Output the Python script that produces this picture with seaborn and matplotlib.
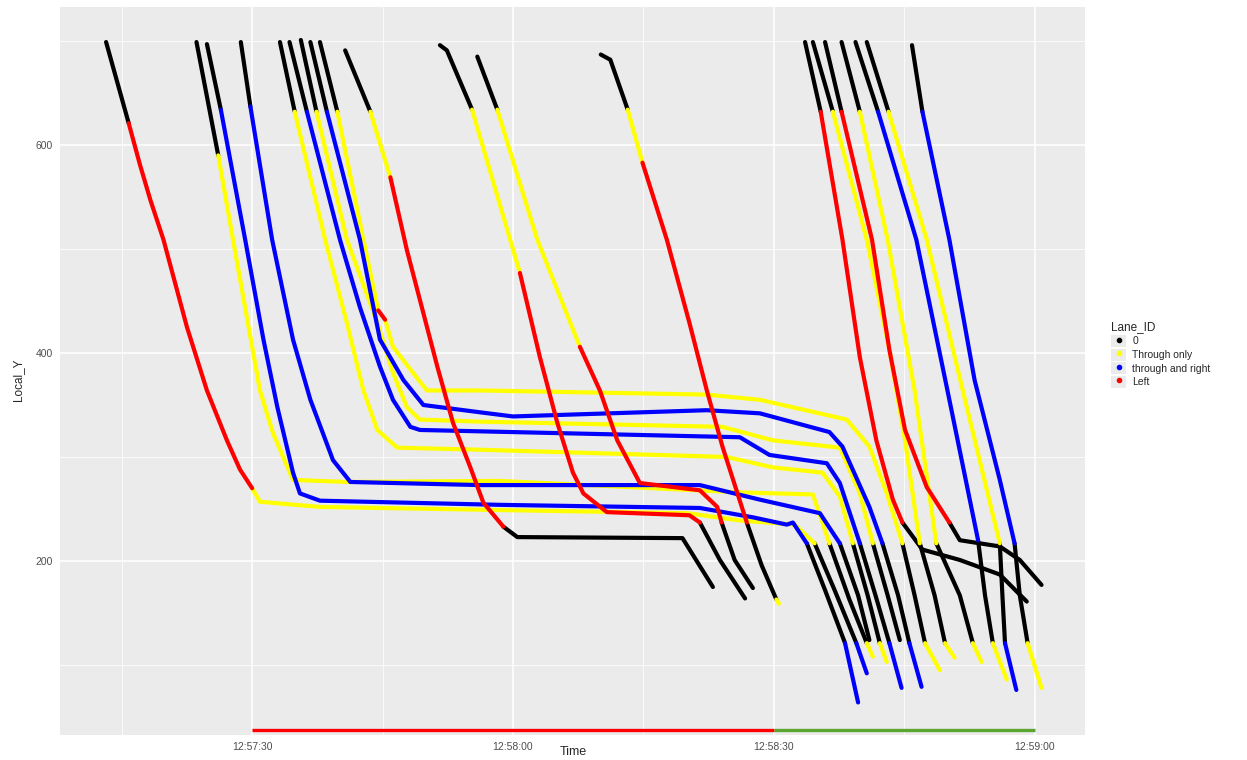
import pandas as pd
import seaborn as sns
import matplotlib.pyplot as plt
from matplotlib.lines import Line2D
from matplotlib.patches import Rectangle
from matplotlib.legend_handler import HandlerTuple
from matplotlib.ticker import FixedLocator, FuncFormatter

# lane codes
K, Y, B, R = "0", "Through only", "through and right", "Left"
lane_levels = [K, Y, B, R]
lane_colors = ["black", "yellow", "blue", "red"]

# one entry per run of constant lane, vehicle by vehicle
seg_lane = [
    K, R, Y, K, B,          # veh 1
    K, Y, K, Y,             # veh 2
    K, B, K, B,             # veh 3
    K, B, K,                # veh 4
    K, Y, K, Y,             # veh 5
    K, B, K, B,             # veh 6
    K, Y, K,                # veh 7
    K, B, K, B,             # veh 8
    K, Y, R, Y, K, Y,       # veh 9
    K, Y, R, K,             # veh 10
    K, Y, R, K,             # veh 11
    K, Y, R, K,             # veh 12
    K, Y, R, K, Y,          # veh 13
    K, R, K,                # veh 14
    K, Y, K, Y,             # veh 15
    K, R, K,                # veh 16
    K, Y, K, Y,             # veh 17
    K, B, K, Y,             # veh 18
    K, Y, K, B,             # veh 19
    K, B, K, Y,             # veh 20
]

# seconds after 12:57:00
seg_time = [
    [13.2, 15.8], [15.8, 17.1, 18.3, 19.8, 22.5, 24.8, 27.1, 28.6, 30.0],
    [30.0, 30.9, 37.8, 58.5, 80.0, 86.1, 92.4, 94.7], [94.7, 97.0, 99.5], [99.5, 100.7],
    [23.6, 26.1], [26.1, 27.8, 30.9, 32.4, 34.7, 40.9, 58.5, 86.1, 94.5, 96.4],
    [96.4, 98.7, 100.7], [100.7, 101.4],
    [24.8, 26.4], [26.4, 29.2, 31.3, 32.9, 34.7, 35.5, 37.8, 58.5, 81.5, 87.6, 91.5, 92.2, 93.8],
    [93.8, 95.9, 98.2], [98.2, 99.7],
    [28.7, 29.8], [29.8, 32.3, 34.7, 36.7, 39.3, 41.3, 56.2, 81.5, 88.4, 95.3, 96.8, 97.6],
    [97.6, 99.7, 101.0],
    [33.2, 34.9], [34.9, 38.4, 40.9, 42.8, 44.4, 46.7, 56.2, 84.6, 89.9, 95.6, 97.6, 99.1],
    [99.1, 100.8, 102.2], [102.2, 103.0],
    [34.3, 36.3], [36.3, 40.1, 42.4, 44.7, 46.2, 48.2, 49.3, 86.1, 89.5, 96.1, 97.6, 99.9],
    [99.9, 101.7, 103.3], [103.3, 104.7],
    [35.6, 37.4], [37.4, 40.9, 44.4, 46.2, 47.8, 49.3, 56.2, 84.1, 89.9, 97.6, 99.9, 101.4],
    [101.4, 103.1, 104.5],
    [36.7, 38.6], [38.6, 42.4, 44.7, 47.4, 49.7, 56.2, 60.0, 82.3, 88.4, 96.4, 97.9, 101.0, 102.5],
    [102.5, 104.3, 105.6], [105.6, 107.0],
    [37.8, 39.8], [39.8, 42.8, 44.5], [44.5, 45.3],
    [45.3, 46.2, 48.5, 50.1, 56.2, 82.3, 88.4, 98.4, 101.0, 103.0, 104.8],
    [104.8, 106.2, 107.4], [107.4, 109.1],
    [40.7, 43.6], [43.6, 45.9], [45.9, 47.8, 51.3, 53.1, 55.1, 56.6, 58.9], [58.9, 60.5, 79.5, 83.0],
    [51.6, 52.4, 55.3], [55.3, 60.8], [60.8, 63.1, 65.1, 66.9, 68.1, 70.8, 80.3, 81.5], [81.5, 83.8, 86.7],
    [55.9, 58.2], [58.2, 62.8, 67.7], [67.7, 70.0, 72.0, 74.6, 81.5, 83.5, 84.0], [84.0, 85.5, 87.6],
    [70.1, 71.2, 73.2], [73.2, 74.9], [74.9, 77.7, 80.3, 82.3, 84.1, 86.9], [86.9, 88.6, 90.3], [90.3, 90.6],
    [93.6, 95.4], [95.4, 97.9, 99.9, 101.8, 103.7, 104.8], [104.8, 107.1, 111.4, 116.0, 119.1],
    [94.5, 96.8], [96.8, 100.7, 103.3, 105.1, 106.8], [106.8, 108.5, 109.7], [109.7, 110.8],
    [95.9, 97.8], [97.8, 101.3, 103.3, 105.1, 107.6, 110.2], [110.2, 111.4, 116.0, 118.3, 120.8],
    [97.8, 99.9], [99.9, 103.1, 106.2, 108.7], [108.7, 111.4, 112.9], [112.9, 113.9],
    [99.4, 102.0], [102.0, 106.4, 110.2, 113.5], [113.5, 114.3, 115.2], [115.2, 116.8],
    [100.7, 103.2], [103.2, 107.6, 112.0, 116.0], [116.0, 116.3, 116.6], [116.6, 117.9],
    [105.9, 107.1], [107.1, 110.2, 113.1, 116.0, 117.7], [117.7, 118.3, 119.2], [119.2, 120.8],
]

seg_y = [
    [699, 621], [621, 581, 547, 509, 425, 364, 316, 288, 270],
    [270, 257, 252, 249, 246, 239, 235, 217], [217, 172, 121], [121, 92],
    [699, 590], [590, 509, 364, 323, 278, 276, 277, 266, 264, 217],
    [217, 163, 121], [121, 108],
    [697, 634], [634, 509, 413, 348, 285, 265, 258, 254, 251, 242, 235, 237, 217],
    [217, 172, 121], [121, 64],
    [699, 637], [637, 509, 413, 355, 297, 276, 273, 273, 259, 246, 227, 217],
    [217, 167, 124],
    [699, 632], [632, 509, 429, 364, 326, 309, 307, 300, 290, 285, 262, 217],
    [217, 167, 121], [121, 103],
    [699, 632], [632, 509, 444, 387, 355, 329, 326, 319, 302, 294, 275, 217],
    [217, 167, 121], [121, 78],
    [701, 632], [632, 509, 429, 381, 348, 336, 334, 329, 316, 309, 265, 217],
    [217, 167, 124],
    [699, 632], [632, 509, 413, 374, 350, 343, 339, 345, 342, 324, 310, 252, 217],
    [217, 167, 121], [121, 79],
    [699, 632], [632, 509, 441], [441, 432],
    [432, 406, 381, 364, 364, 360, 355, 336, 310, 265, 217],
    [217, 167, 121], [121, 95],
    [691, 632], [632, 569], [569, 499, 387, 333, 290, 256, 233], [233, 223, 222, 175],
    [696, 691, 634], [634, 477], [477, 396, 333, 285, 265, 247, 244, 237], [237, 201, 164],
    [685, 634], [634, 509, 406], [406, 364, 316, 275, 268, 252, 237], [237, 201, 174],
    [687, 682, 634], [634, 583], [583, 509, 429, 364, 310, 237], [237, 196, 163], [163, 159],
    [699, 632], [632, 509, 396, 316, 259, 237], [237, 211, 201, 187, 161],
    [699, 632], [632, 509, 403, 316, 217], [217, 167, 121], [121, 107],
    [699, 632], [632, 509, 403, 326, 271, 237], [237, 220, 214, 201, 177],
    [699, 632], [632, 509, 364, 217], [217, 167, 121], [121, 103],
    [699, 632], [632, 509, 355, 220], [220, 167, 121], [121, 86],
    [699, 632], [632, 509, 355, 217], [217, 167, 121], [121, 76],
    [696, 632], [632, 509, 374, 278, 217], [217, 167, 121], [121, 78],
]

# signal phase bar along the bottom (red until 12:58:30, then green)
signal_start = [30, 90]
signal_end = [90, 120]
signal_colors = ["#ff0000", "#5aa532"]
signal_y = 37.5

rows = []
for i, (lane, ts, ys) in enumerate(zip(seg_lane, seg_time, seg_y)):
    for t, yv in zip(ts, ys):
        rows.append({"seg": i, "Time": t, "Local_Y": yv, "Lane_ID": lane})
df = pd.DataFrame(rows)

sns.set_theme(style="darkgrid")
plt.rcParams["font.family"] = ["Liberation Sans", "DejaVu Sans"]

fig = plt.figure(figsize=(12.47, 7.6), dpi=100)
ax = fig.add_axes([60 / 1247, 25 / 760, 1025 / 1247, 728 / 760])
ax.set_facecolor("#ebebeb")

palette = dict(zip(lane_levels, lane_colors))
# draw lane by lane (black underneath, red on top), one line per segment
for lane in lane_levels:
    for seg, d in df[df["Lane_ID"] == lane].groupby("seg", sort=True):
        sns.lineplot(x=d["Time"].to_numpy(), y=d["Local_Y"].to_numpy(), color=palette[lane],
                     sort=False, estimator=None, linewidth=3.0, ax=ax,
                     solid_capstyle="round", solid_joinstyle="round")

for s0, s1, c in zip(signal_start, signal_end, signal_colors):
    ax.plot([s0, s1], [signal_y, signal_y], color=c, linewidth=2.4, solid_capstyle="butt")

ax.set_xlim(7.9, 125.8)
ax.set_ylim(32.7, 732.7)
ax.xaxis.set_major_locator(FixedLocator([30, 60, 90, 120]))
ax.xaxis.set_minor_locator(FixedLocator([15, 45, 75, 105]))
ax.yaxis.set_major_locator(FixedLocator([200, 400, 600]))
ax.yaxis.set_minor_locator(FixedLocator([100, 300, 500, 700]))
ax.xaxis.set_major_formatter(FuncFormatter(lambda s, p: f"12:{57 + int(s) // 60}:{int(s) % 60:02d}"))
ax.grid(which="major", color="white", linewidth=1.1)
ax.grid(which="minor", color="white", linewidth=0.55)
for sp in ax.spines.values():
    sp.set_visible(False)
ax.tick_params(which="major", length=3, width=0.8, color="#333333", labelsize=7.5,
               labelcolor="#4d4d4d", pad=2)
ax.tick_params(which="minor", length=0)
ax.set_xlabel("")
ax.set_ylabel("")

fig.text(573 / 1247, 1 - 752 / 760, "Time", ha="center", va="center", fontsize=9)
fig.text(18 / 1247, 1 - 380 / 760, "Local_Y", ha="center", va="center", rotation=90, fontsize=8.5)

handles = [(Rectangle((0, 0), 1, 1, facecolor="#ebebeb", edgecolor="none"),
            Line2D([], [], marker="o", linestyle="", color=c, markersize=3))
           for c in lane_colors]
fig.legend(handles, lane_levels, title="Lane_ID", loc="upper left",
           bbox_to_anchor=(1102 / 1247, 1 - 312 / 760), frameon=False,
           fontsize=7.5, title_fontsize=8.5, alignment="left", handletextpad=0.6,
           labelspacing=0.15, handlelength=1.4, handleheight=1.4,
           handler_map={tuple: HandlerTuple(ndivide=1, pad=0)})

fig.savefig("out.png", dpi=100)
